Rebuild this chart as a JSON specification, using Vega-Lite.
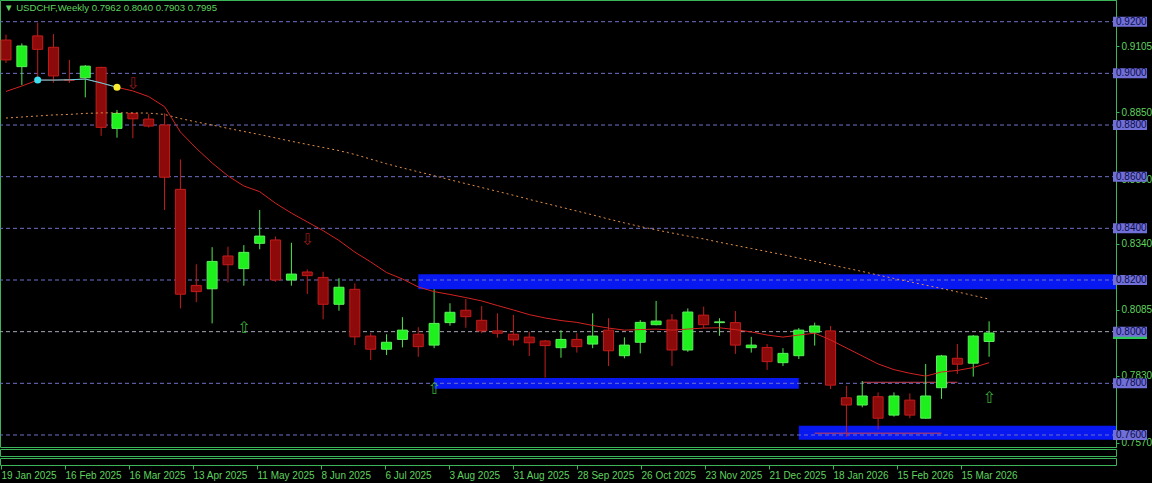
{
  "$schema": "https://vega.github.io/schema/vega-lite/v6.json",
  "background": "#000000",
  "padding": {"left": 0, "top": 0, "right": 1152, "bottom": 483},
  "autosize": {"type": "none"},
  "spacing": 2,
  "bounds": "flush",
  "config": {
    "view": {"stroke": "#3cb45a", "strokeWidth": 1},
    "axis": {"grid": false, "domainColor": "#3cb45a", "tickColor": "#3cb45a", "labelColor": "#5fd35f", "labelFont": "Liberation Sans", "labelFontSize": 10}
  },
  "datasets": {
    "bars": [
      {"date": "2025-01-19", "open": 0.9129, "high": 0.9150, "low": 0.9040, "close": 0.9052, "fast": 0.8930, "slow": 0.8827},
      {"date": "2025-01-26", "open": 0.9026, "high": 0.9116, "low": 0.8955, "close": 0.9106, "fast": 0.8951, "slow": 0.8831},
      {"date": "2025-02-02", "open": 0.9145, "high": 0.9196, "low": 0.8974, "close": 0.9093, "fast": 0.8974, "slow": 0.8835, "sig": 0.8974},
      {"date": "2025-02-09", "open": 0.9101, "high": 0.9152, "low": 0.8964, "close": 0.8990, "fast": 0.8974, "slow": 0.8839, "sig": 0.8974},
      {"date": "2025-02-16", "open": 0.8976, "high": 0.9052, "low": 0.8963, "close": 0.8973, "fast": 0.8975, "slow": 0.8841, "sig": 0.8975},
      {"date": "2025-02-23", "open": 0.8983, "high": 0.9032, "low": 0.8907, "close": 0.9028, "fast": 0.8978, "slow": 0.8845, "sig": 0.8978},
      {"date": "2025-03-02", "open": 0.9023, "high": 0.9026, "low": 0.8758, "close": 0.8791, "fast": 0.8963, "slow": 0.8847, "sig": 0.8963},
      {"date": "2025-03-09", "open": 0.8787, "high": 0.8858, "low": 0.8751, "close": 0.8845, "fast": 0.8946, "slow": 0.8847, "sig": 0.8946},
      {"date": "2025-03-16", "open": 0.8845, "high": 0.8848, "low": 0.8749, "close": 0.8824, "fast": 0.8932, "slow": 0.8847},
      {"date": "2025-03-23", "open": 0.8823, "high": 0.8843, "low": 0.8790, "close": 0.8796, "fast": 0.8910, "slow": 0.8846},
      {"date": "2025-03-30", "open": 0.8800, "high": 0.8845, "low": 0.8471, "close": 0.8598, "fast": 0.8871, "slow": 0.8841},
      {"date": "2025-04-06", "open": 0.8551, "high": 0.8667, "low": 0.8090, "close": 0.8145, "fast": 0.8773, "slow": 0.8825},
      {"date": "2025-04-13", "open": 0.8179, "high": 0.8261, "low": 0.8114, "close": 0.8155, "fast": 0.8710, "slow": 0.8812},
      {"date": "2025-04-20", "open": 0.8166, "high": 0.8327, "low": 0.8032, "close": 0.8272, "fast": 0.8653, "slow": 0.8800},
      {"date": "2025-04-27", "open": 0.8293, "high": 0.8329, "low": 0.8191, "close": 0.8259, "fast": 0.8603, "slow": 0.8787},
      {"date": "2025-05-04", "open": 0.8244, "high": 0.8335, "low": 0.8178, "close": 0.8307, "fast": 0.8564, "slow": 0.8775},
      {"date": "2025-05-11", "open": 0.8342, "high": 0.8471, "low": 0.8319, "close": 0.8370, "fast": 0.8542, "slow": 0.8763},
      {"date": "2025-05-18", "open": 0.8355, "high": 0.8368, "low": 0.8193, "close": 0.8200, "fast": 0.8497, "slow": 0.8750},
      {"date": "2025-05-25", "open": 0.8200, "high": 0.8344, "low": 0.8178, "close": 0.8223, "fast": 0.8459, "slow": 0.8737},
      {"date": "2025-06-01", "open": 0.8231, "high": 0.8241, "low": 0.8146, "close": 0.8217, "fast": 0.8425, "slow": 0.8725},
      {"date": "2025-06-08", "open": 0.8210, "high": 0.8232, "low": 0.8048, "close": 0.8106, "fast": 0.8391, "slow": 0.8713},
      {"date": "2025-06-15", "open": 0.8106, "high": 0.8207, "low": 0.8081, "close": 0.8172, "fast": 0.8353, "slow": 0.8701},
      {"date": "2025-06-22", "open": 0.8164, "high": 0.8187, "low": 0.7948, "close": 0.7980, "fast": 0.8308, "slow": 0.8686},
      {"date": "2025-06-29", "open": 0.7983, "high": 0.7994, "low": 0.7890, "close": 0.7932, "fast": 0.8270, "slow": 0.8668},
      {"date": "2025-07-06", "open": 0.7932, "high": 0.7990, "low": 0.7910, "close": 0.7959, "fast": 0.8229, "slow": 0.8650},
      {"date": "2025-07-13", "open": 0.7970, "high": 0.8056, "low": 0.7939, "close": 0.8006, "fast": 0.8204, "slow": 0.8634},
      {"date": "2025-07-20", "open": 0.7990, "high": 0.8017, "low": 0.7903, "close": 0.7942, "fast": 0.8173, "slow": 0.8619},
      {"date": "2025-07-27", "open": 0.7948, "high": 0.8164, "low": 0.7936, "close": 0.8032, "fast": 0.8155, "slow": 0.8604},
      {"date": "2025-08-03", "open": 0.8035, "high": 0.8110, "low": 0.8023, "close": 0.8075, "fast": 0.8144, "slow": 0.8588},
      {"date": "2025-08-10", "open": 0.8083, "high": 0.8126, "low": 0.8015, "close": 0.8058, "fast": 0.8132, "slow": 0.8573},
      {"date": "2025-08-17", "open": 0.8044, "high": 0.8099, "low": 0.7994, "close": 0.8003, "fast": 0.8119, "slow": 0.8558},
      {"date": "2025-08-24", "open": 0.8003, "high": 0.8071, "low": 0.7977, "close": 0.7994, "fast": 0.8101, "slow": 0.8543},
      {"date": "2025-08-31", "open": 0.7990, "high": 0.8065, "low": 0.7946, "close": 0.7968, "fast": 0.8084, "slow": 0.8528},
      {"date": "2025-09-07", "open": 0.7979, "high": 0.8000, "low": 0.7906, "close": 0.7957, "fast": 0.8066, "slow": 0.8512},
      {"date": "2025-09-14", "open": 0.7964, "high": 0.7968, "low": 0.7822, "close": 0.7946, "fast": 0.8053, "slow": 0.8497},
      {"date": "2025-09-21", "open": 0.7938, "high": 0.8006, "low": 0.7899, "close": 0.7970, "fast": 0.8043, "slow": 0.8482},
      {"date": "2025-09-28", "open": 0.7970, "high": 0.7994, "low": 0.7919, "close": 0.7942, "fast": 0.8036, "slow": 0.8467},
      {"date": "2025-10-05", "open": 0.7952, "high": 0.8071, "low": 0.7936, "close": 0.7983, "fast": 0.8024, "slow": 0.8452},
      {"date": "2025-10-12", "open": 0.8006, "high": 0.8052, "low": 0.7867, "close": 0.7926, "fast": 0.8014, "slow": 0.8436},
      {"date": "2025-10-19", "open": 0.7907, "high": 0.7978, "low": 0.7897, "close": 0.7948, "fast": 0.8006, "slow": 0.8421},
      {"date": "2025-10-26", "open": 0.7959, "high": 0.8045, "low": 0.7916, "close": 0.8036, "fast": 0.8008, "slow": 0.8407},
      {"date": "2025-11-02", "open": 0.8027, "high": 0.8119, "low": 0.8025, "close": 0.8041, "fast": 0.8010, "slow": 0.8394},
      {"date": "2025-11-09", "open": 0.8045, "high": 0.8068, "low": 0.7867, "close": 0.7929, "fast": 0.8006, "slow": 0.8382},
      {"date": "2025-11-16", "open": 0.7929, "high": 0.8090, "low": 0.7922, "close": 0.8076, "fast": 0.8010, "slow": 0.8370},
      {"date": "2025-11-23", "open": 0.8064, "high": 0.8097, "low": 0.8013, "close": 0.8027, "fast": 0.8014, "slow": 0.8359},
      {"date": "2025-11-30", "open": 0.8035, "high": 0.8052, "low": 0.7984, "close": 0.8038, "fast": 0.8015, "slow": 0.8346},
      {"date": "2025-12-07", "open": 0.8035, "high": 0.8080, "low": 0.7914, "close": 0.7948, "fast": 0.8008, "slow": 0.8334},
      {"date": "2025-12-14", "open": 0.7938, "high": 0.7980, "low": 0.7919, "close": 0.7948, "fast": 0.7999, "slow": 0.8322},
      {"date": "2025-12-21", "open": 0.7939, "high": 0.7952, "low": 0.7852, "close": 0.7884, "fast": 0.7987, "slow": 0.8310},
      {"date": "2025-12-28", "open": 0.7880, "high": 0.7936, "low": 0.7867, "close": 0.7916, "fast": 0.7979, "slow": 0.8298},
      {"date": "2026-01-04", "open": 0.7907, "high": 0.8014, "low": 0.7894, "close": 0.8006, "fast": 0.7987, "slow": 0.8285},
      {"date": "2026-01-11", "open": 0.7998, "high": 0.8035, "low": 0.7946, "close": 0.8022, "fast": 0.7994, "slow": 0.8272},
      {"date": "2026-01-18", "open": 0.8003, "high": 0.8022, "low": 0.7778, "close": 0.7793, "fast": 0.7968, "slow": 0.8259},
      {"date": "2026-01-25", "open": 0.7744, "high": 0.7790, "low": 0.7593, "close": 0.7716, "fast": 0.7937, "slow": 0.8246},
      {"date": "2026-02-01", "open": 0.7716, "high": 0.7809, "low": 0.7707, "close": 0.7751, "fast": 0.7906, "slow": 0.8233},
      {"date": "2026-02-08", "open": 0.7748, "high": 0.7765, "low": 0.7622, "close": 0.7665, "fast": 0.7875, "slow": 0.8219},
      {"date": "2026-02-15", "open": 0.7677, "high": 0.7765, "low": 0.7671, "close": 0.7751, "fast": 0.7853, "slow": 0.8206},
      {"date": "2026-02-22", "open": 0.7735, "high": 0.7761, "low": 0.7665, "close": 0.7677, "fast": 0.7839, "slow": 0.8193},
      {"date": "2026-03-01", "open": 0.7665, "high": 0.7875, "low": 0.7663, "close": 0.7751, "fast": 0.7828, "slow": 0.8180},
      {"date": "2026-03-08", "open": 0.7783, "high": 0.7910, "low": 0.7740, "close": 0.7906, "fast": 0.7844, "slow": 0.8167},
      {"date": "2026-03-15", "open": 0.7897, "high": 0.7952, "low": 0.7836, "close": 0.7874, "fast": 0.7850, "slow": 0.8154},
      {"date": "2026-03-22", "open": 0.7878, "high": 0.7987, "low": 0.7826, "close": 0.7983, "fast": 0.7861, "slow": 0.8140},
      {"date": "2026-03-29", "open": 0.7962, "high": 0.8040, "low": 0.7903, "close": 0.7995, "fast": 0.7880, "slow": 0.8126}
    ],
    "levels": [
      {"level": 0.92}, {"level": 0.90}, {"level": 0.88}, {"level": 0.86}, {"level": 0.84},
      {"level": 0.82}, {"level": 0.80}, {"level": 0.78}, {"level": 0.76}
    ],
    "zones": [
      {"start": "2025-07-20", "end": "2026-12-31", "lo": 0.8164, "hi": 0.8222},
      {"start": "2025-07-27", "end": "2026-01-04", "lo": 0.7779, "hi": 0.7821},
      {"start": "2026-01-04", "end": "2026-12-31", "lo": 0.7582, "hi": 0.7636}
    ],
    "segments": [
      {"start": "2026-01-11", "end": "2026-03-08", "price": 0.7607},
      {"start": "2026-02-01", "end": "2026-03-15", "price": 0.7804}
    ],
    "markers": [
      {"date": "2025-02-02", "price": 0.8974, "kind": "cyan"},
      {"date": "2025-03-09", "price": 0.8946, "kind": "yellow"}
    ],
    "arrows": [
      {"date": "2025-03-16", "price": 0.8958, "dir": "down"},
      {"date": "2025-06-01", "price": 0.8355, "dir": "down"},
      {"date": "2025-05-04", "price": 0.8014, "dir": "up"},
      {"date": "2025-07-27", "price": 0.7778, "dir": "up"},
      {"date": "2026-03-29", "price": 0.7743, "dir": "up"}
    ],
    "header": [
      {"date": "2025-01-19", "price": 0.9284, "label": "▼ USDCHF,Weekly  0.7962 0.8040 0.7903 0.7995"}
    ]
  },
  "vconcat": [
    {
      "width": 1116,
      "height": 447,
      "layer": [
        {
          "data": {"name": "zones"},
          "mark": {"type": "rect", "color": "#0818f0", "clip": true},
          "encoding": {
            "x": {"field": "start", "type": "temporal", "scale": {"type": "utc", "domain": [{"year": 2025, "month": 1, "date": 18, "hours": 13, "minutes": 30, "utc": true}, {"year": 2026, "month": 5, "date": 21, "hours": 19, "minutes": 30, "utc": true}]}, "axis": null},
            "x2": {"field": "end"},
            "y": {"field": "lo", "type": "quantitative", "title": null, "scale": {"domain": [0.75535, 0.9284], "zero": false, "nice": false},
              "axis": {"orient": "right", "values": [0.923, 0.9105, 0.8975, 0.885, 0.872, 0.859, 0.8465, 0.834, 0.821, 0.8085, 0.7955, 0.783, 0.77, 0.757], "format": ".4f", "tickSize": 3, "labelPadding": 2, "labelOverlap": false, "labelFlush": false, "labelBound": false, "title": null}},
            "y2": {"field": "hi"}
          }
        },
        {
          "data": {"name": "levels"},
          "mark": {"type": "rule", "strokeDash": [4, 3], "strokeWidth": 1},
          "encoding": {
            "y": {"field": "level", "type": "quantitative", "title": null},
            "stroke": {"condition": {"test": "datum.level === 0.8", "value": "#a8a8ba"}, "value": "#7070c8"}
          }
        },
        {
          "mark": {"type": "rule", "strokeDash": [3, 3], "color": "#5ec48a"},
          "encoding": {
            "x": {"datum": {"year": 2026, "month": 1, "date": 4, "utc": true}, "type": "temporal", "axis": null}
          }
        },
        {
          "data": {"name": "segments"},
          "mark": {"type": "rule", "color": "#cc4458", "strokeWidth": 1, "clip": true},
          "encoding": {
            "x": {"field": "start", "type": "temporal", "axis": null},
            "x2": {"field": "end"},
            "y": {"field": "price", "type": "quantitative", "title": null}
          }
        },
        {
          "data": {"name": "bars"},
          "mark": {"type": "rule", "strokeWidth": 1, "clip": true},
          "encoding": {
            "x": {"field": "date", "type": "temporal", "axis": null},
            "y": {"field": "low", "type": "quantitative", "title": null},
            "y2": {"field": "high"},
            "stroke": {"condition": {"test": "datum.close >= datum.open", "value": "#4ee84e"}, "value": "#c41c1c"}
          }
        },
        {
          "data": {"name": "bars"},
          "mark": {"type": "bar", "size": 10, "strokeWidth": 1, "clip": true},
          "encoding": {
            "x": {"field": "date", "type": "temporal", "axis": null},
            "y": {"field": "open", "type": "quantitative", "title": null},
            "y2": {"field": "close"},
            "fill": {"condition": {"test": "datum.close >= datum.open", "value": "#1ef01e"}, "value": "#8c0a0a"},
            "stroke": {"condition": {"test": "datum.close >= datum.open", "value": "#5cf05c"}, "value": "#c41c1c"}
          }
        },
        {
          "data": {"name": "bars"},
          "mark": {"type": "line", "color": "#e0904a", "strokeWidth": 1, "strokeDash": [2, 3], "clip": true},
          "encoding": {
            "x": {"field": "date", "type": "temporal", "axis": null},
            "y": {"field": "slow", "type": "quantitative", "title": null}
          }
        },
        {
          "data": {"name": "bars"},
          "mark": {"type": "line", "color": "#d42222", "strokeWidth": 1, "clip": true},
          "encoding": {
            "x": {"field": "date", "type": "temporal", "axis": null},
            "y": {"field": "fast", "type": "quantitative", "title": null}
          }
        },
        {
          "data": {"name": "bars"},
          "mark": {"type": "line", "color": "#5ad8e6", "strokeWidth": 1},
          "encoding": {
            "x": {"field": "date", "type": "temporal", "axis": null},
            "y": {"field": "sig", "type": "quantitative", "title": null}
          }
        },
        {
          "data": {"name": "markers"},
          "mark": {"type": "point", "filled": true, "size": 50, "opacity": 1},
          "encoding": {
            "x": {"field": "date", "type": "temporal", "axis": null},
            "y": {"field": "price", "type": "quantitative", "title": null},
            "color": {"field": "kind", "type": "nominal", "legend": null, "scale": {"domain": ["cyan", "yellow"], "range": ["#3ce0f0", "#f8ec30"]}}
          }
        },
        {
          "data": {"name": "arrows"},
          "mark": {"type": "text", "font": "DejaVu Sans", "fontSize": 16, "baseline": "middle", "align": "center"},
          "encoding": {
            "x": {"field": "date", "type": "temporal", "axis": null},
            "y": {"field": "price", "type": "quantitative", "title": null},
            "text": {"condition": {"test": "datum.dir === 'up'", "value": "⇧"}, "value": "⇩"},
            "color": {"condition": {"test": "datum.dir === 'up'", "value": "#3aa83a"}, "value": "#8e1a1a"}
          }
        },
        {
          "data": {"name": "header"},
          "mark": {"type": "text", "font": "Liberation Sans", "fontSize": 9.6, "align": "left", "baseline": "middle", "dx": -2, "dy": 8},
          "encoding": {
            "x": {"field": "date", "type": "temporal", "axis": null},
            "y": {"field": "price", "type": "quantitative", "title": null},
            "text": {"field": "label", "type": "nominal"},
            "color": {"value": "#5fd35f"}
          }
        },
        {
          "data": {"values": [{"price": 0.7995}]},
          "mark": {"type": "rect", "color": "#2fc85a", "xOffset": 2, "x2Offset": 36, "yOffset": -6, "y2Offset": 6},
          "encoding": {
            "x": {"datum": {"year": 2026, "month": 5, "date": 21, "hours": 19, "minutes": 30, "utc": true}, "type": "temporal", "axis": null},
            "x2": {"datum": {"year": 2026, "month": 5, "date": 21, "hours": 19, "minutes": 30, "utc": true}},
            "y": {"field": "price", "type": "quantitative", "title": null},
            "y2": {"field": "price"}
          }
        },
        {
          "data": {"name": "levels"},
          "mark": {"type": "rect", "color": "#7070d8", "xOffset": 2, "x2Offset": 36, "yOffset": -5, "y2Offset": 5},
          "encoding": {
            "x": {"datum": {"year": 2026, "month": 5, "date": 21, "hours": 19, "minutes": 30, "utc": true}, "type": "temporal", "axis": null},
            "x2": {"datum": {"year": 2026, "month": 5, "date": 21, "hours": 19, "minutes": 30, "utc": true}},
            "y": {"field": "level", "type": "quantitative", "title": null},
            "y2": {"field": "level"}
          }
        },
        {
          "data": {"name": "levels"},
          "mark": {"type": "text", "font": "Liberation Sans", "fontSize": 10, "align": "left", "baseline": "middle", "color": "#0c0c4a", "dx": 5},
          "encoding": {
            "x": {"datum": {"year": 2026, "month": 5, "date": 21, "hours": 19, "minutes": 30, "utc": true}, "type": "temporal", "axis": null},
            "y": {"field": "level", "type": "quantitative", "title": null},
            "text": {"field": "level", "type": "quantitative", "format": ".4f"}
          }
        }
      ]
    },
    {
      "width": 1116,
      "height": 7,
      "mark": {"type": "rule", "strokeDash": [3, 3], "color": "#5ec48a"},
      "encoding": {
        "x": {"datum": {"year": 2026, "month": 1, "date": 4, "utc": true}, "type": "temporal", "scale": {"type": "utc", "domain": [{"year": 2025, "month": 1, "date": 18, "hours": 13, "minutes": 30, "utc": true}, {"year": 2026, "month": 5, "date": 21, "hours": 19, "minutes": 30, "utc": true}]}, "axis": null}
      }
    },
    {
      "width": 1116,
      "height": 7,
      "mark": {"type": "rule", "strokeDash": [3, 3], "color": "#5ec48a"},
      "encoding": {
        "x": {"datum": {"year": 2026, "month": 1, "date": 4, "utc": true}, "type": "temporal", "scale": {"type": "utc", "domain": [{"year": 2025, "month": 1, "date": 18, "hours": 13, "minutes": 30, "utc": true}, {"year": 2026, "month": 5, "date": 21, "hours": 19, "minutes": 30, "utc": true}]},
          "axis": {"title": null, "format": "%-d %b %Y", "labelAlign": "left", "labelPadding": 1, "tickSize": 4, "domain": false, "labelOverlap": false, "labelFlush": false, "labelBound": false,
            "values": [
              {"year": 2025, "month": 1, "date": 19, "utc": true},
              {"year": 2025, "month": 2, "date": 16, "utc": true},
              {"year": 2025, "month": 3, "date": 16, "utc": true},
              {"year": 2025, "month": 4, "date": 13, "utc": true},
              {"year": 2025, "month": 5, "date": 11, "utc": true},
              {"year": 2025, "month": 6, "date": 8, "utc": true},
              {"year": 2025, "month": 7, "date": 6, "utc": true},
              {"year": 2025, "month": 8, "date": 3, "utc": true},
              {"year": 2025, "month": 8, "date": 31, "utc": true},
              {"year": 2025, "month": 9, "date": 28, "utc": true},
              {"year": 2025, "month": 10, "date": 26, "utc": true},
              {"year": 2025, "month": 11, "date": 23, "utc": true},
              {"year": 2025, "month": 12, "date": 21, "utc": true},
              {"year": 2026, "month": 1, "date": 18, "utc": true},
              {"year": 2026, "month": 2, "date": 15, "utc": true},
              {"year": 2026, "month": 3, "date": 15, "utc": true}
            ]}
        }
      }
    }
  ]
}
